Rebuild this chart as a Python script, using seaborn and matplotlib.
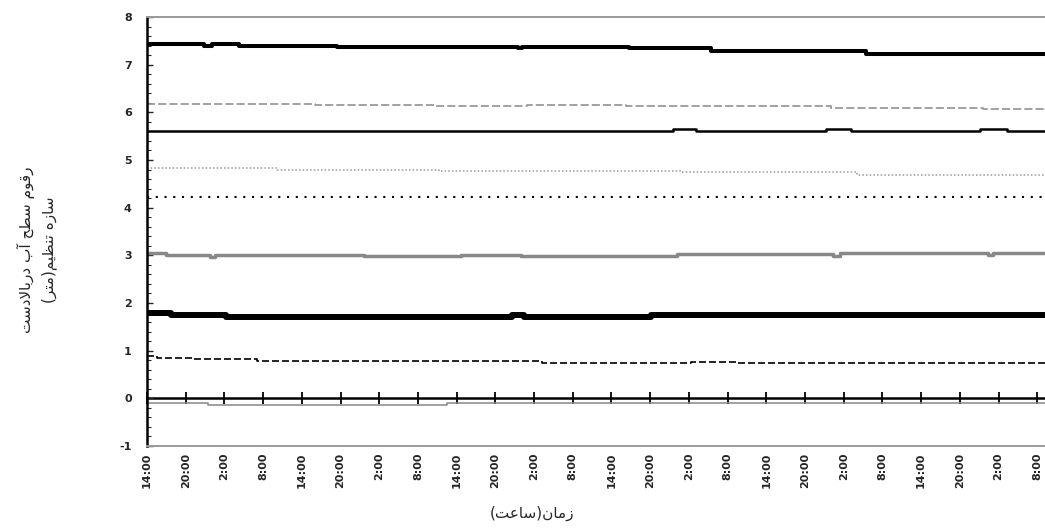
import matplotlib
matplotlib.use('Agg')
import matplotlib.pyplot as plt
from matplotlib.ticker import MultipleLocator
import seaborn as sns

# ---- data (hours since start, water level in m), step series ----
X_END = 139.2

s1_x = [0, 8.8, 10.0, 14.2, 29.5, 57.5, 58.1, 74.7, 87.5, 111.5]
s1_y = [7.43, 7.39, 7.43, 7.40, 7.37, 7.34, 7.37, 7.34, 7.28, 7.22]

s2_x = [0, 26.1, 44.7, 58.9, 74.2, 106.1, 129.6]
s2_y = [6.17, 6.15, 6.13, 6.16, 6.13, 6.10, 6.08]

s3_x = [0, 81.6, 85.1, 105.2, 109.1, 129.2, 133.3]
s3_y = [5.61, 5.65, 5.61, 5.65, 5.61, 5.65, 5.61]

s4_x = [0, 20.2, 45.3, 82.7, 110.0]
s4_y = [4.83, 4.80, 4.77, 4.74, 4.68]

s5_x = [0]
s5_y = [4.22]

s6_x = [0, 2.9, 9.7, 10.5, 33.7, 48.6, 58.0, 82.1, 106.3, 107.4, 130.4, 131.2]
s6_y = [3.05, 3.01, 2.97, 3.01, 2.98, 3.01, 2.98, 3.02, 2.98, 3.05, 3.00, 3.05]

s7_x = [0, 3.7, 12.2, 56.6, 58.5, 78.1]
s7_y = [1.80, 1.75, 1.71, 1.75, 1.71, 1.75]

s8_x = [0, 1.5, 7.1, 17.0, 61.2, 84.4, 91.4]
s8_y = [0.89, 0.85, 0.82, 0.78, 0.74, 0.77, 0.74]

s9_x = [0, 9.4, 46.5]
s9_y = [-0.10, -0.15, -0.10]

tick_hours = list(range(0, 139, 6))
tick_labels = ['14:00', '20:00', '2:00', '8:00'] * 6

y_line1 = 'رقوم سطح آب دربالادست'
y_line2 = 'سازه تنظیم(متر)'
x_title = 'زمان(ساعت)'

# ---- minimal Arabic/Persian shaping (matplotlib has no shaping/bidi) ----
FORMS = {
    'ا': ('\uFE8D', '\uFE8E', None, None),
    'آ': ('\uFE81', '\uFE82', None, None),
    'ب': ('\uFE8F', '\uFE90', '\uFE91', '\uFE92'),
    'ت': ('\uFE95', '\uFE96', '\uFE97', '\uFE98'),
    'ح': ('\uFEA1', '\uFEA2', '\uFEA3', '\uFEA4'),
    'د': ('\uFEA9', '\uFEAA', None, None),
    'ر': ('\uFEAD', '\uFEAE', None, None),
    'ز': ('\uFEAF', '\uFEB0', None, None),
    'س': ('\uFEB1', '\uFEB2', '\uFEB3', '\uFEB4'),
    'ط': ('\uFEC1', '\uFEC2', '\uFEC3', '\uFEC4'),
    'ظ': ('\uFEC5', '\uFEC6', '\uFEC7', '\uFEC8'),
    'ع': ('\uFEC9', '\uFECA', '\uFECB', '\uFECC'),
    'ق': ('\uFED5', '\uFED6', '\uFED7', '\uFED8'),
    'ل': ('\uFEDD', '\uFEDE', '\uFEDF', '\uFEE0'),
    'م': ('\uFEE1', '\uFEE2', '\uFEE3', '\uFEE4'),
    'ن': ('\uFEE5', '\uFEE6', '\uFEE7', '\uFEE8'),
    'ه': ('\uFEE9', '\uFEEA', '\uFEEB', '\uFEEC'),
    'و': ('\uFEED', '\uFEEE', None, None),
    'ی': ('\uFBFC', '\uFBFD', '\uFBFE', '\uFBFF'),
    'لا': ('\uFEFB', '\uFEFC', None, None),
}


def shape(text):
    toks = []
    i = 0
    while i < len(text):
        if text[i] == 'ل' and i + 1 < len(text) and text[i + 1] == 'ا':
            toks.append('لا')
            i += 2
        else:
            toks.append(text[i])
            i += 1
    out = []
    for k, t in enumerate(toks):
        if t not in FORMS:
            out.append(t)
            continue
        prev = toks[k - 1] if k > 0 else None
        nxt = toks[k + 1] if k + 1 < len(toks) else None
        jp = prev in FORMS and FORMS[prev][2] is not None
        jn = FORMS[t][2] is not None and nxt in FORMS
        f = FORMS[t]
        out.append(f[3] if jp and jn else f[1] if jp else f[2] if jn else f[0])
    vis = ''.join(reversed(out))
    return vis.translate(str.maketrans('()', ')('))


sns.set_style('white')
plt.rcParams['font.family'] = ['DejaVu Sans']
plt.rcParams['axes.unicode_minus'] = False

fig = plt.figure(figsize=(10.45, 5.32), dpi=100)
ax = fig.add_axes([147 / 1045, 1 - 446 / 532, 898 / 1045, 429 / 532])

series = [
    (s1_x, s1_y, dict(color='black', lw=2.9)),
    (s2_x, s2_y, dict(color='#9a9a9a', lw=1.3, linestyle=(0, (4.5, 1.7)))),
    (s3_x, s3_y, dict(color='black', lw=1.8)),
    (s4_x, s4_y, dict(color='#9a9a9a', lw=1.1, linestyle=(0, (1, 1.4)))),
    (s5_x, s5_y, dict(color='black', lw=1.5, linestyle=(0, (1, 3.2)))),
    (s6_x, s6_y, dict(color='#888888', lw=2.5)),
    (s7_x, s7_y, dict(color='black', lw=4.3)),
    (s8_x, s8_y, dict(color='black', lw=1.2, linestyle=(0, (4.2, 1.8)))),
    (s9_x, s9_y, dict(color='#888888', lw=1.1)),
]
for xs, ys, kw in series:
    sns.lineplot(x=xs + [X_END], y=ys + [ys[-1]], ax=ax, drawstyle='steps-post',
                 sort=False, errorbar=None, **kw)

ax.set_xlim(0, X_END)
ax.set_ylim(-1, 8)

# frame
for side in ['top', 'bottom']:
    ax.spines[side].set_color('#999999')
    ax.spines[side].set_linewidth(1.4)
ax.spines['right'].set_visible(False)
ax.spines['left'].set_color('black')
ax.spines['left'].set_linewidth(1.8)

# x labels at the bottom border
ax.set_xticks(tick_hours)
ax.set_xticklabels(tick_labels, rotation=90, fontsize=8, fontweight='bold')
ax.tick_params(axis='x', length=0, pad=5)

# zero axis with tick marks
zero = ax.secondary_xaxis(1 / 9)
zero.set_xticks(tick_hours)
zero.tick_params(axis='x', direction='inout', length=8, width=1.3,
                 color='black', bottom=True, labelbottom=False)
zero.spines['bottom'].set_linewidth(1.8)
zero.spines['bottom'].set_color('black')

# y axis
ax.yaxis.set_major_locator(MultipleLocator(1))
ax.yaxis.set_minor_locator(MultipleLocator(0.2))
ax.tick_params(axis='y', which='major', direction='in', length=4, width=1,
               left=True, pad=11, labelsize=8)
ax.tick_params(axis='y', which='minor', direction='in', length=3, width=0.8,
               left=True)
for t in ax.get_yticklabels():
    t.set_fontweight('bold')

ax.set_ylabel(shape(y_line1) + '\n' + shape(y_line2), fontsize=11,
              rotation=90, linespacing=1.6, ha='center', va='center')
ax.yaxis.set_label_coords(-0.1225, 0.457)
ax.set_xlabel(shape(x_title), fontsize=11, va='center')
ax.xaxis.set_label_coords(0.4287, -0.156)

fig.savefig('out.png', dpi=100)
